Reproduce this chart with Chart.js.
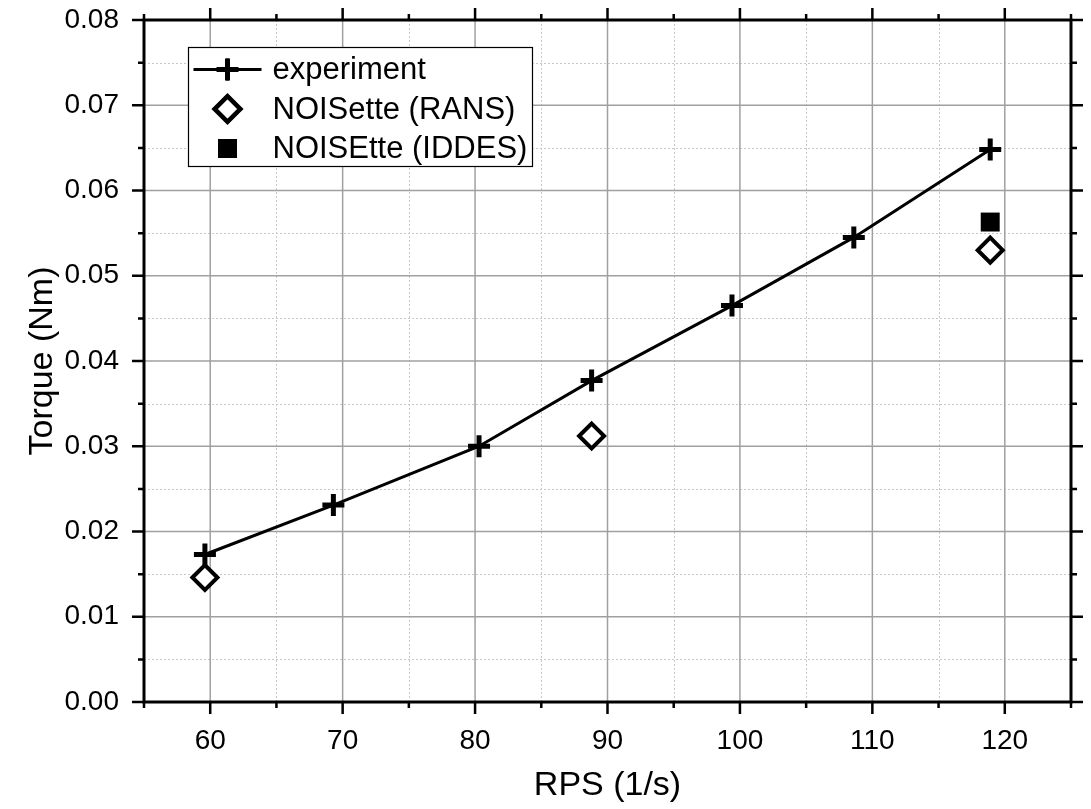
<!DOCTYPE html>
<html>
<head>
<meta charset="utf-8">
<script src="https://cdn.jsdelivr.net/npm/chart.js@4"></script>
<style>
  body { margin: 0; background: #fff; }
  #wrap { width: 1091px; height: 809px; }
</style>
</head>
<body>
<div id="wrap"><canvas id="torqueChart"></canvas></div>
<script>
// data
const expRps = [59.6, 69.3, 80.3, 88.8, 99.4, 108.6, 118.9];
const expTorque = [0.0173, 0.0231, 0.0300, 0.0377, 0.0465, 0.0545, 0.0648];
const ransRps = [59.6, 88.8, 118.9];
const ransTorque = [0.0146, 0.0312, 0.0530];
const iddesRps = [118.9];
const iddesTorque = [0.0563];

const seriesLabels = ['experiment', 'NOISette (RANS)', 'NOISEtte (IDDES)'];
const xRange = [55, 125];
const yRange = [0, 0.08];

function toPoints(xs, ys) {
  return xs.map((x, i) => ({ x: x, y: ys[i] }));
}

const FONT = 'Arial, "Liberation Sans", sans-serif';

// grid, frame and ticks (major + minor) on all four sides
const framePlugin = {
  id: 'frame',
  beforeDatasetsDraw(chart) {
    const { ctx, chartArea: a, scales } = chart;
    ctx.save();
    // minor dotted grid
    ctx.strokeStyle = '#c8c8c8';
    ctx.lineWidth = 1;
    ctx.setLineDash([2, 2]);
    scales.x.ticks.forEach(t => {
      if (t.value % 10 !== 0) {
        const px = Math.round(scales.x.getPixelForValue(t.value)) + 0.5;
        ctx.beginPath(); ctx.moveTo(px, a.top); ctx.lineTo(px, a.bottom); ctx.stroke();
      }
    });
    scales.y.ticks.forEach(t => {
      if (Math.round(t.value * 1000) % 10 !== 0) {
        const py = Math.round(scales.y.getPixelForValue(t.value)) + 0.5;
        ctx.beginPath(); ctx.moveTo(a.left, py); ctx.lineTo(a.right, py); ctx.stroke();
      }
    });
    // major solid grid
    ctx.setLineDash([]);
    ctx.strokeStyle = '#a0a0a0';
    ctx.lineWidth = 1.5;
    scales.x.ticks.forEach(t => {
      if (t.value % 10 === 0) {
        const px = scales.x.getPixelForValue(t.value);
        ctx.beginPath(); ctx.moveTo(px, a.top); ctx.lineTo(px, a.bottom); ctx.stroke();
      }
    });
    scales.y.ticks.forEach(t => {
      if (Math.round(t.value * 1000) % 10 === 0) {
        const py = scales.y.getPixelForValue(t.value);
        ctx.beginPath(); ctx.moveTo(a.left, py); ctx.lineTo(a.right, py); ctx.stroke();
      }
    });
    ctx.restore();
  },
  afterDatasetsDraw(chart) {
    const { ctx, chartArea: a, scales } = chart;
    ctx.save();
    ctx.strokeStyle = '#000';
    ctx.lineWidth = 2.5;
    ctx.lineCap = 'butt';
    scales.x.ticks.forEach(t => {
      const len = t.value % 10 === 0 ? 12 : 6;
      const px = scales.x.getPixelForValue(t.value);
      ctx.beginPath();
      ctx.moveTo(px, a.bottom); ctx.lineTo(px, a.bottom + len);
      ctx.moveTo(px, a.top); ctx.lineTo(px, a.top - len);
      ctx.stroke();
    });
    scales.y.ticks.forEach(t => {
      const len = Math.round(t.value * 1000) % 10 === 0 ? 12 : 6;
      const py = scales.y.getPixelForValue(t.value);
      ctx.beginPath();
      ctx.moveTo(a.left, py); ctx.lineTo(a.left - len, py);
      ctx.moveTo(a.right, py); ctx.lineTo(a.right + len, py);
      ctx.stroke();
    });
    ctx.lineWidth = 3;
    ctx.strokeRect(a.left, a.top, a.right - a.left, a.bottom - a.top);
    ctx.restore();
  }
};

// legend box inside the plot area, top left
const legendPlugin = {
  id: 'insideLegend',
  afterDraw(chart) {
    const { ctx, chartArea: a } = chart;
    const left = a.left + 44.5, top = a.top + 27.5, w = 344, h = 119;
    const rowH = 39.5, symX = left + 39, textX = left + 84;
    ctx.save();
    ctx.fillStyle = '#fff';
    ctx.fillRect(left, top, w, h);
    ctx.strokeStyle = '#000';
    ctx.lineWidth = 1.2;
    ctx.strokeRect(left, top, w, h);
    ctx.font = '31px ' + FONT;
    ctx.textBaseline = 'middle';
    chart.data.datasets.forEach((ds, i) => {
      const cy = top + 22 + i * rowH;
      if (ds.showLine) {
        ctx.strokeStyle = ds.borderColor;
        ctx.lineWidth = ds.borderWidth;
        ctx.beginPath(); ctx.moveTo(left + 5, cy); ctx.lineTo(left + 73, cy); ctx.stroke();
      }
      Chart.helpers.drawPoint(ctx, {
        pointStyle: ds.pointStyle,
        radius: ds.pointRadius,
        borderWidth: ds.pointBorderWidth
      }, symX, cy);
      ctx.fillStyle = ds.pointBackgroundColor;
      ctx.strokeStyle = ds.pointBorderColor;
      ctx.lineWidth = ds.pointBorderWidth;
      if (ds.pointStyle !== 'cross') ctx.fill();
      if (ds.pointBorderWidth > 0) ctx.stroke();
      ctx.fillStyle = '#000';
      ctx.fillText(ds.label, textX, cy + 1);
    });
    ctx.restore();
  }
};

const chartConfig = {
  type: 'scatter',
  data: {
    datasets: [
      {
        label: seriesLabels[0],
        data: toPoints(expRps, expTorque),
        showLine: true,
        borderColor: '#000',
        borderWidth: 3,
        pointStyle: 'cross',
        pointRadius: 11,
        pointBorderWidth: 5,
        pointBorderColor: '#000',
        pointBackgroundColor: '#000'
      },
      {
        label: seriesLabels[1],
        data: toPoints(ransRps, ransTorque),
        showLine: false,
        pointStyle: 'rectRot',
        pointRadius: 12.5,
        pointBorderWidth: 4,
        pointBorderColor: '#000',
        pointBackgroundColor: '#fff'
      },
      {
        label: seriesLabels[2],
        data: toPoints(iddesRps, iddesTorque),
        showLine: false,
        pointStyle: 'rect',
        pointRadius: 13.4,
        pointBorderWidth: 0,
        pointBorderColor: '#000',
        pointBackgroundColor: '#000'
      }
    ]
  },
  options: {
    responsive: true,
    maintainAspectRatio: false,
    animation: false,
    layout: { padding: { top: 20, right: 20, left: 0, bottom: 0 } },
    plugins: {
      legend: { display: false },
      tooltip: { enabled: false }
    },
    scales: {
      x: {
        type: 'linear',
        min: xRange[0],
        max: xRange[1],
        afterFit(scale) {
          scale.height = 107;
          scale.paddingLeft = 0;
          scale.paddingRight = 0;
        },
        grid: { display: false, drawTicks: false },
        border: { display: false },
        ticks: {
          stepSize: 5,
          color: '#000',
          font: { family: FONT, size: 28 },
          padding: 22,
          maxRotation: 0,
          autoSkip: false,
          callback: v => (v % 10 === 0 ? String(v) : '')
        },
        title: {
          display: true,
          text: 'RPS (1/s)',
          color: '#000',
          font: { family: FONT, size: 34 },
          padding: { top: 0, bottom: 3 }
        }
      },
      y: {
        type: 'linear',
        min: yRange[0],
        max: yRange[1],
        afterFit(scale) {
          scale.width = 144;
          scale.paddingTop = 0;
          scale.paddingBottom = 0;
        },
        grid: { display: false, drawTicks: false },
        border: { display: false },
        ticks: {
          stepSize: 0.005,
          color: '#000',
          font: { family: FONT, size: 28 },
          padding: 25,
          autoSkip: false,
          callback: v => (Math.round(v * 1000) % 10 === 0 ? v.toFixed(2) : '')
        },
        title: {
          display: true,
          text: 'Torque (Nm)',
          color: '#000',
          font: { family: FONT, size: 34 },
          padding: { top: 22, bottom: 0 }
        }
      }
    }
  },
  plugins: [framePlugin, legendPlugin]
};

const torqueChart = new Chart(document.getElementById('torqueChart'), chartConfig);
</script>
</body>
</html>
